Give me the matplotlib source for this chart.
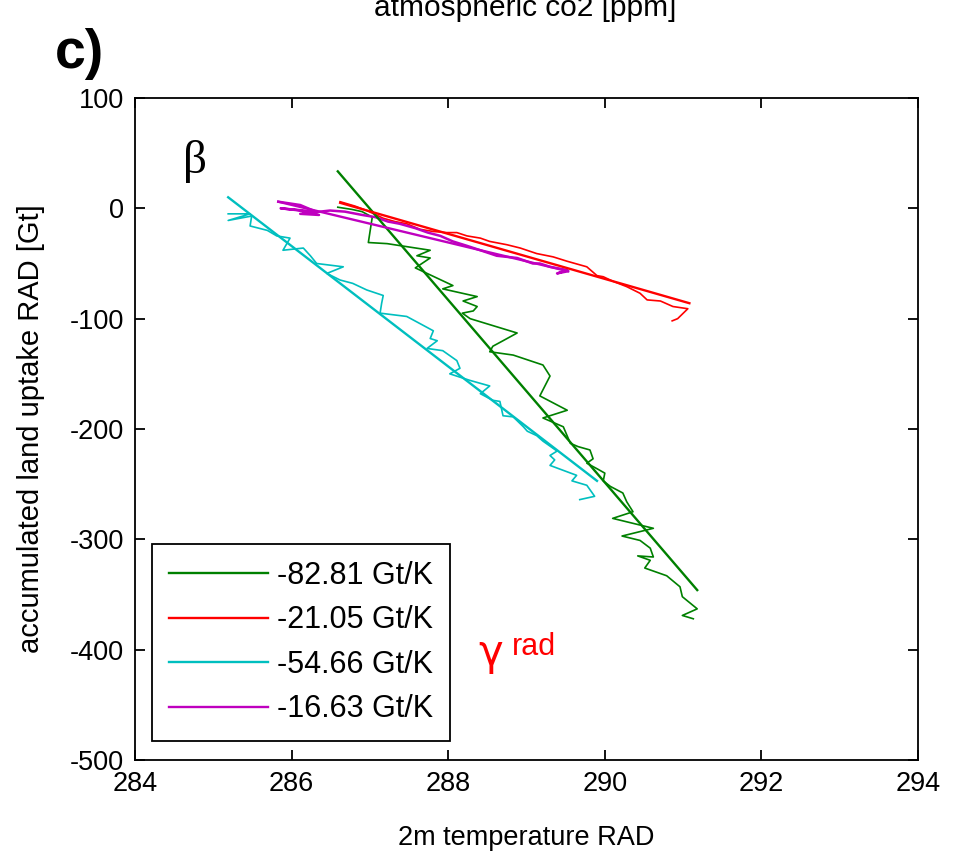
import numpy as np
import matplotlib.pyplot as plt

plt.rcParams['font.family'] = ['Liberation Sans', 'DejaVu Sans']
plt.rcParams['axes.unicode_minus'] = False

# noisy trajectories (2m temperature [K], accumulated land uptake [Gt])
green_x = [286.59, 286.77, 286.90, 287.03, 286.98, 287.22, 287.77, 287.60, 287.77, 287.58,
           288.06, 287.93, 288.37, 288.19, 288.37, 288.32, 288.18, 288.28, 288.88, 288.70,
           288.57, 288.53, 288.83, 289.21, 289.30, 289.17, 289.52, 289.21, 289.47, 289.56,
           289.66, 289.81, 289.85, 289.77, 289.90, 290.00, 289.98, 290.07, 290.23, 290.28,
           290.36, 290.10, 290.62, 290.22, 290.45, 290.58, 290.62, 290.42, 290.58, 290.51,
           290.79, 290.96, 290.99, 291.18, 290.99, 291.13]
green_y = [1, -1, -3, -8, -31, -32, -38, -43, -45, -54,
           -70, -73, -80, -84, -89, -93, -95, -100, -113, -120,
           -125, -130, -133, -142, -152, -170, -183, -190, -198, -213,
           -216, -219, -227, -231, -236, -240, -247, -252, -258, -266,
           -275, -281, -290, -297, -301, -308, -316, -315, -319, -326,
           -333, -343, -352, -363, -369, -372]

red_x = [286.62, 286.81, 286.96, 287.17, 287.32, 287.47, 287.64, 287.81, 287.98, 288.11,
         288.24, 288.41, 288.53, 288.75, 288.92, 289.13, 289.34, 289.52, 289.77, 289.90,
         289.98, 290.10, 290.28, 290.45, 290.54, 290.71, 290.87, 291.06, 290.93, 290.86]
red_y = [6, 2, -2, -9, -12, -14, -19, -21, -22, -22,
         -25, -27, -30, -33, -36, -41, -44, -48, -53, -61,
         -62, -66, -71, -77, -83, -84, -89, -91, -100, -102]

cyan_x = [285.19, 285.47, 285.19, 285.49, 285.47, 285.69, 285.81, 285.98, 285.89, 286.15,
          286.24, 286.32, 286.66, 286.45, 286.62, 286.78, 286.96, 287.17, 287.15, 287.13,
          287.47, 287.81, 287.77, 287.86, 287.73, 287.93, 288.11, 288.15, 288.02, 288.28,
          288.53, 288.41, 288.57, 288.66, 288.70, 288.83, 288.96, 289.01, 289.13, 289.21,
          289.39, 289.30, 289.36, 289.30, 289.64, 289.58, 289.77, 289.87, 289.68]
cyan_y = [-5, -5, -11, -7, -16, -20, -25, -27, -38, -36,
          -43, -50, -53, -59, -65, -68, -74, -79, -86, -95,
          -98, -111, -118, -120, -127, -129, -138, -145, -150, -156,
          -161, -168, -174, -175, -188, -189, -198, -202, -206, -211,
          -220, -224, -228, -233, -242, -247, -251, -261, -264]

mag_x = [285.83, 286.11, 286.31, 285.86, 286.11, 286.35, 286.11, 286.49, 286.68, 286.90,
         287.07, 287.23, 287.38, 287.58, 287.74, 287.90, 288.06, 288.24, 288.41, 288.62,
         288.75, 288.88, 289.08, 289.17, 289.30, 289.52, 289.39, 289.53]
mag_y = [6, 3, -3, 0, -2, -6, -5, -2, -3, -6,
         -8, -12, -14, -18, -22, -25, -30, -34, -38, -43,
         -44, -45, -50, -50, -53, -56, -59, -57]

# regression lines (end points)
fit_green_x, fit_green_y = [286.59, 291.18], [33.5, -346]
fit_red_x, fit_red_y = [286.62, 291.08], [5, -86]
fit_cyan_x, fit_cyan_y = [285.19, 289.90], [10, -247]
fit_mag_x, fit_mag_y = [285.83, 289.53], [6, -57]

labels = ['-82.81 Gt/K', '-21.05 Gt/K', '-54.66 Gt/K', '-16.63 Gt/K']

c_green = '#008000'
c_red = '#ff0000'
c_cyan = '#00bfbf'
c_mag = '#bf00bf'

fig = plt.figure(figsize=(9.56, 8.58), dpi=100)
ax = fig.add_axes([0.1412, 0.1142, 0.8191, 0.7716])

ax.plot(green_x, green_y, color=c_green, lw=1.2)
ax.plot(red_x, red_y, color=c_red, lw=1.2)
ax.plot(cyan_x, cyan_y, color=c_cyan, lw=1.2)
ax.plot(mag_x, mag_y, color=c_mag, lw=1.8)

l1, = ax.plot(fit_green_x, fit_green_y, color=c_green, lw=1.7)
l2, = ax.plot(fit_red_x, fit_red_y, color=c_red, lw=1.7)
l3, = ax.plot(fit_cyan_x, fit_cyan_y, color=c_cyan, lw=1.7)
l4, = ax.plot(fit_mag_x, fit_mag_y, color=c_mag, lw=1.7)

ax.set_xlim(284, 294)
ax.set_ylim(-500, 100)
ax.set_xticks(np.arange(284, 295, 2))
ax.set_yticks(np.arange(-500, 101, 100))
ax.tick_params(direction='in', top=True, right=True, length=7, width=1.3,
               labelsize=19.5, pad=8)
for s in ax.spines.values():
    s.set_linewidth(1.3)

ax.set_xlabel('2m temperature RAD', fontsize=19.5, labelpad=20)
ax.set_ylabel('accumulated land uptake RAD [Gt]', fontsize=21, labelpad=18)

leg = ax.legend([l1, l2, l3, l4], labels, loc='lower left',
                bbox_to_anchor=(0.0217, 0.0287), borderaxespad=0,
                fontsize=22, handlelength=3.25, labelspacing=0.47,
                fancybox=False, framealpha=1, edgecolor='black',
                borderpad=0.55, handletextpad=0.3)
leg.get_frame().set_linewidth(1.3)

ax.text(0.061, 0.886, 'β', transform=ax.transAxes, fontsize=34,
        family='Liberation Serif', va='baseline')
ax.text(0.438, 0.1435, 'γ', transform=ax.transAxes, fontsize=30,
        color='red', va='baseline', family='DejaVu Sans')
ax.text(0.481, 0.158, 'rad', transform=ax.transAxes, fontsize=22,
        color='red', va='baseline')

fig.text(0.057, 1 - 68 / 858, 'c)', fontsize=40, fontweight='bold', va='baseline')
fig.text(0.549, 1 - 16 / 858, 'atmospheric co2 [ppm]', fontsize=21.5,
         ha='center', va='baseline')

fig.savefig('out.png', dpi=100)
